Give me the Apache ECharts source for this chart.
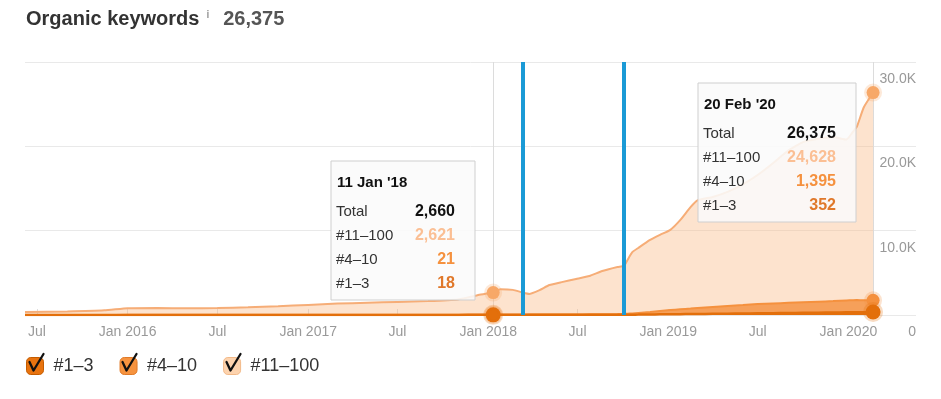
<!DOCTYPE html>
<html>
<head>
<meta charset="utf-8">
<title>Organic keywords</title>
<script src="https://cdn.jsdelivr.net/npm/echarts@6/dist/echarts.min.js"></script>
<style>
  html, body { margin: 0; padding: 0; background: #fff; }
  #chart { width: 941px; height: 399px; }
</style>
</head>
<body>
<div id="chart"></div>
<script>
// dates of the readings
const dates = [
  "2015-06-07", "2015-09-01", "2015-11-15", "2016-01-01", "2016-03-01", "2016-05-01",
  "2016-07-01", "2016-09-01", "2016-11-01", "2017-01-01", "2017-03-01", "2017-05-01",
  "2017-07-01", "2017-09-01", "2017-11-01", "2017-12-10", "2018-01-11", "2018-01-25",
  "2018-02-20", "2018-03-10", "2018-03-25", "2018-04-15", "2018-05-05", "2018-05-30",
  "2018-06-28", "2018-07-25", "2018-08-20", "2018-09-20", "2018-10-03", "2018-10-10",
  "2018-10-20", "2018-11-01", "2018-11-25", "2018-12-15", "2019-01-05", "2019-01-25",
  "2019-02-15", "2019-03-01", "2019-04-01", "2019-05-01", "2019-06-01", "2019-07-01",
  "2019-08-01", "2019-09-01", "2019-10-01", "2019-11-01", "2019-12-01", "2019-12-28",
  "2020-01-10", "2020-01-18", "2020-02-01", "2020-02-20"
];
const top1to3 = [
  3, 3, 4, 4, 4, 5,
  5, 5, 6, 7, 8, 9,
  10, 12, 14, 16, 18, 18,
  19, 19, 20, 20, 21, 22,
  23, 25, 27, 30, 32, 35,
  40, 45, 60, 75, 90, 100,
  110, 120, 140, 160, 180, 200,
  220, 240, 260, 280, 300, 320,
  330, 335, 340, 352
];
const top4to10 = [
  8, 9, 10, 11, 11, 12,
  12, 13, 14, 15, 15, 16,
  17, 18, 19, 20, 21, 22,
  23, 24, 25, 27, 30, 35,
  40, 50, 60, 80, 100, 120,
  150, 200, 300, 400, 500, 580,
  650, 700, 800, 900, 1000, 1100,
  1150, 1200, 1250, 1300, 1350, 1400,
  1420, 1430, 1420, 1395
];
const top11to100 = [
  339, 408, 536, 785, 815, 783,
  813, 902, 1030, 1178, 1327, 1425,
  1523, 1620, 1817, 2314, 2621, 3010,
  2938, 2657, 2445, 2903, 3499, 3843,
  4207, 4545, 5133, 5590, 5688, 6345,
  7260, 7705, 8540, 9025, 9510, 10570,
  12040, 12780, 13060, 13540, 14320, 15300,
  16630, 18060, 18990, 19320, 19450, 19080,
  19950, 20535, 22840, 24628
];
const seriesNames = ["#1–3", "#4–10", "#11–100"];
const xTickDates = [
  "2015-07-01", "2016-01-01", "2016-07-01", "2017-01-01", "2017-07-01",
  "2018-01-01", "2018-07-01", "2019-01-01", "2019-07-01", "2020-01-01"
];
const xTickLabels = [
  "Jul", "Jan 2016", "Jul", "Jan 2017", "Jul",
  "Jan 2018", "Jul", "Jan 2019", "Jul", "Jan 2020"
];
const xRange = ["2015-06-07", "2020-05-17"];
const yTicks = [0, 10000, 20000, 30000];
const hoverDates = ["2018-01-11", "2020-02-20"];
const hoverTitles = ["11 Jan '18", "20 Feb '20"];
const updateDates = ["2018-03-12", "2018-10-03"];

const lineColors = ["#e36f0b", "#f5913e", "#f6ad77"];
const areaColors = ["#e36f0b", "#f6a05a", "rgba(251,188,138,0.42)"];
const valueColors = ["#e0782a", "#f5913e", "#fbbf94"];
const legendFill = ["#e8730f", "#f6933f", "#fdd3ae"];
const legendBorder = ["#c45c00", "#e07a28", "#f2b988"];

const font = 'Arial, "Liberation Sans", sans-serif';
const DAY = 24 * 3600 * 1000;
const fmt = (n) => n.toLocaleString("en-US");
// local midnight, like the time axis ticks
const toTime = function (s) {
  const p = s.split("-");
  return new Date(+p[0], +p[1] - 1, +p[2]).getTime();
};
const xTickTimes = xTickDates.map(toTime);

const chart = echarts.init(document.getElementById("chart"));

function buildData(values, color, size) {
  return dates.map(function (d, i) {
    const item = { value: [toTime(d), values[i]] };
    if (hoverDates.indexOf(d) >= 0) {
      item.symbol = "circle";
      item.symbolSize = size;
      item.itemStyle = {
        color: color,
        borderColor: echarts.color.modifyAlpha(color, 0.25),
        borderWidth: 5
      };
    }
    return item;
  });
}

const stacks = [top1to3, top4to10, top11to100];
const series = stacks.map(function (values, k) {
  return {
    name: seriesNames[k],
    type: "line",
    stack: "keywords",
    symbol: "none",
    showSymbol: true,
    smooth: 0.15,
    silent: true,
    z: 5 - k,
    lineStyle: { color: lineColors[k], width: k === 0 ? 2.5 : 2 },
    itemStyle: { color: lineColors[k] },
    areaStyle: { color: areaColors[k], opacity: 1 },
    emphasis: { disabled: true },
    data: buildData(values, k === 2 ? "#f7a868" : lineColors[k], k === 0 ? 15 : 13)
  };
});

// blue update markers, above the areas
series[0].markLine = {
  silent: true,
  z: 8,
  symbol: ["none", "none"],
  label: { show: false },
  animation: false,
  data: updateDates.map(function (d) {
    return { xAxis: toTime(d), lineStyle: { color: "#1a9ad6", width: 4, type: "solid" } };
  })
};
// hover cross lines, under the markers
series[2].markLine = {
  silent: true,
  z: 1,
  symbol: ["none", "none"],
  label: { show: false },
  animation: false,
  data: hoverDates.map(function (d) {
    return { xAxis: toTime(d), lineStyle: { color: "#dcdcdc", width: 1, type: "solid" } };
  })
};

// static tooltip boxes
const boxes = [
  { x: 331, y: 161, w: 144, h: 139 },
  { x: 698, y: 83, w: 158, h: 139 }
];
const graphics = [];
hoverDates.forEach(function (d, b) {
  const i = dates.indexOf(d);
  const box = boxes[b];
  const total = top1to3[i] + top4to10[i] + top11to100[i];
  const rows = [
    ["Total", total, "#111"],
    [seriesNames[2], top11to100[i], valueColors[2]],
    [seriesNames[1], top4to10[i], valueColors[1]],
    [seriesNames[0], top1to3[i], valueColors[0]]
  ];
  const children = [
    {
      type: "rect",
      z: 100,
      shape: { x: 0, y: 0, width: box.w, height: box.h },
      style: { fill: "rgba(250,250,250,0.88)", stroke: "#cfcfcf", lineWidth: 1 }
    },
    {
      type: "text",
      z: 101,
      x: 6, y: 22,
      style: { text: hoverTitles[b], font: "bold 15px " + font, fill: "#111", verticalAlign: "middle" }
    }
  ];
  rows.forEach(function (r, j) {
    children.push({
      type: "text",
      z: 101,
      x: 5, y: 51 + j * 24,
      style: { text: r[0], font: "15px " + font, fill: "#333", verticalAlign: "middle" }
    });
    children.push({
      type: "text",
      z: 101,
      x: box.w - 20, y: 51 + j * 24,
      style: { text: fmt(r[1]), font: "bold 16px " + font, fill: r[2], align: "right", verticalAlign: "middle" }
    });
  });
  graphics.push({ type: "group", x: box.x, y: box.y, z: 100, children: children });
});

// check marks on the legend boxes
[26, 119, 223].forEach(function (x) {
  graphics.push({
    type: "polyline",
    z: 100,
    shape: { points: [[x + 3.5, 362], [x + 7.5, 370.5], [x + 17.5, 354]] },
    style: { stroke: "#111", lineWidth: 2.3, fill: null, lineJoin: "round", lineCap: "round" }
  });
});

const last = dates.length - 1;
const lastTotal = top1to3[last] + top4to10[last] + top11to100[last];

const option = {
  animation: false,
  textStyle: { fontFamily: font },
  title: {
    left: 26,
    top: 9,
    padding: 0,
    text: "{t|Organic keywords}{i|i}{v|" + fmt(lastTotal) + "}",
    textStyle: {
      rich: {
        t: { fontSize: 20, fontWeight: "bold", color: "#333", fontFamily: font },
        i: { fontSize: 10, color: "#999", padding: [0, 14, 8, 7], fontFamily: font },
        v: { fontSize: 20, color: "#555", fontFamily: font }
      }
    }
  },
  grid: { left: 25, right: 25, top: 62, bottom: 84 },
  legend: {
    left: 26,
    top: 357,
    padding: 0,
    icon: "roundRect",
    itemWidth: 17,
    itemHeight: 17,
    itemGap: 26,
    selectedMode: false,
    textStyle: { fontSize: 18, color: "#333", padding: [0, 0, 0, 5], fontFamily: font },
    data: seriesNames.map(function (n, k) {
      return { name: n, itemStyle: { color: legendFill[k], borderColor: legendBorder[k], borderWidth: 1 } };
    })
  },
  xAxis: {
    type: "time",
    min: toTime(xRange[0]),
    max: toTime(xRange[1]),
    minInterval: 181 * DAY,
    maxInterval: 184 * DAY,
    axisLine: { show: false },
    splitLine: { show: false },
    axisTick: {
      show: true,
      inside: true,
      length: 6,
      lineStyle: { color: "#ddd" }
    },
    axisLabel: {
      color: "#999",
      fontSize: 14,
      margin: 10,
      hideOverlap: false,
      showMinLabel: false,
      showMaxLabel: false,
      formatter: function (val) {
        for (let i = 0; i < xTickTimes.length; i++) {
          if (Math.abs(xTickTimes[i] - val) < 2 * DAY) return xTickLabels[i];
        }
        return "";
      }
    }
  },
  yAxis: {
    type: "value",
    position: "right",
    min: yTicks[0],
    max: yTicks[yTicks.length - 1],
    interval: yTicks[1] - yTicks[0],
    axisLine: { show: false },
    axisTick: { show: false },
    splitLine: { lineStyle: { color: "#e9e9e9" } },
    axisLabel: {
      color: "#999",
      fontSize: 14,
      margin: 0,
      align: "right",
      verticalAlign: "top",
      padding: [10, 0, 0, 0],
      formatter: function (v) {
        return v === 0 ? "0" : (v / 1000).toFixed(1) + "K";
      }
    }
  },
  graphic: graphics,
  series: series
};

chart.setOption(option);
</script>
</body>
</html>
